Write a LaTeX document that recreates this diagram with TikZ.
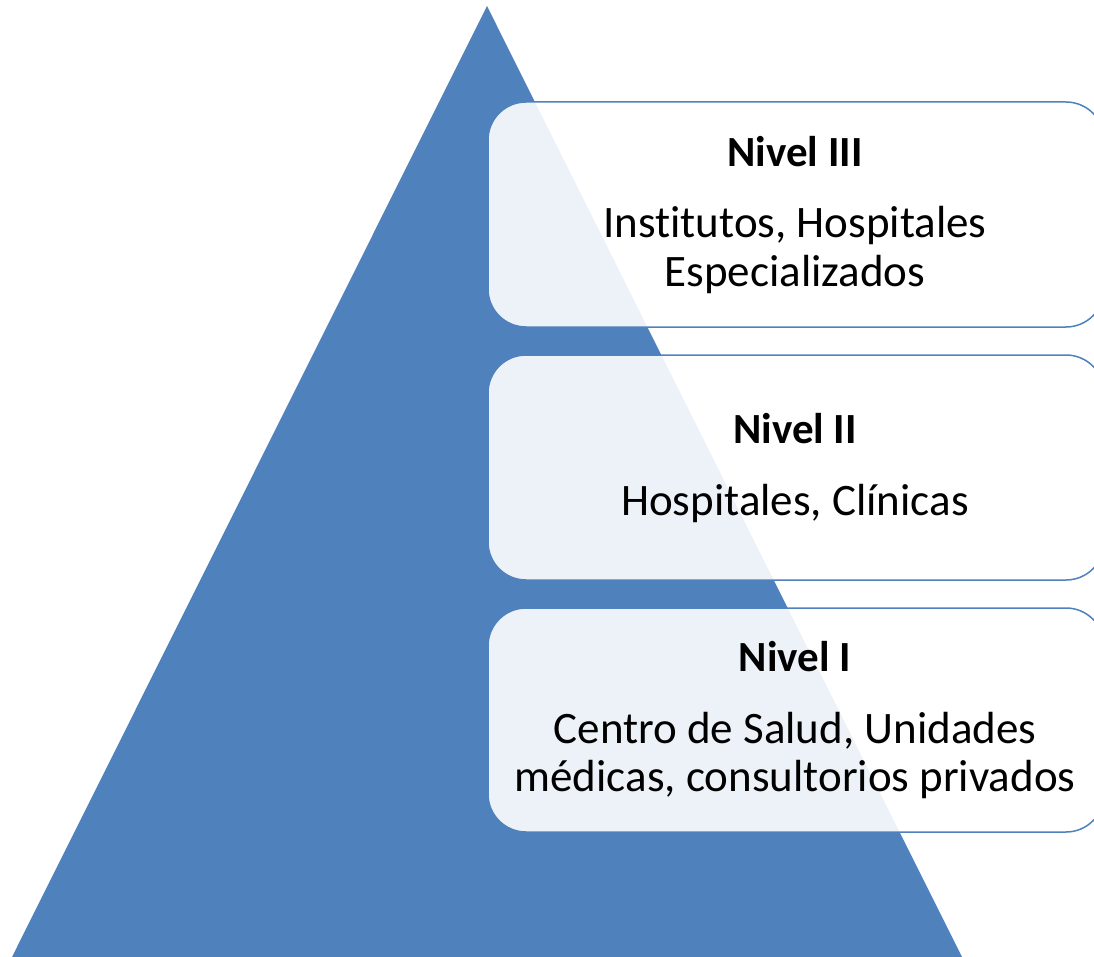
\documentclass[tikz,border=0pt]{standalone}
\usepackage{fontspec}
\setmainfont{Carlito}[RawFeature=-liga,RawFeature=-calt,RawFeature=-clig,RawFeature=-dlig]
\definecolor{pyr}{HTML}{4F81BD}
\tikzset{
  tribox/.style={draw=pyr, line width=1.5pt, fill=white, fill opacity=0.9, rounded corners=38pt},
  ttl/.style={anchor=base, inner sep=0pt, font=\fontsize{43}{48}\selectfont\bfseries},
  txt/.style={anchor=base, inner sep=0pt, font=\fontsize{45}{48}\selectfont},
}
\begin{document}
\begin{tikzpicture}[x=1pt,y=-1pt]
\useasboundingbox (0,0) rectangle (1094,957);
\fill[pyr] (487,6) -- (962,957) -- (12,957) -- cycle;
\draw[tribox] (488,102) rectangle (1104,327);
\draw[tribox] (488,355) rectangle (1104,580);
\draw[tribox] (488,608) rectangle (1104,832);
\node[ttl] (t3) at (795,167) {Nivel III};
\node[txt] (a3) at (795,238) {Institutos, Hospitales};
\node[txt] (b3) at (795,287) {Especializados};
\node[ttl] (t2) at (795,443) {Nivel II};
\node[txt] (a2) at (795,515) {Hospitales, Clínicas};
\node[ttl] (t1) at (795,671) {Nivel I};
\node[txt] (a1) at (795,743) {Centro de Salud, Unidades};
\node[txt] (b1) at (795,791) {médicas, consultorios privados};
\end{tikzpicture}
\end{document}
